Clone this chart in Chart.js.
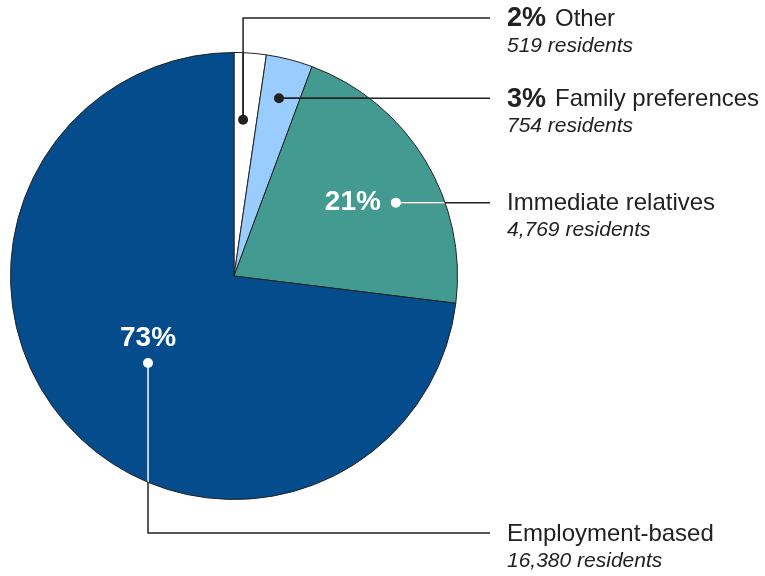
<!DOCTYPE html>
<html>
<head>
<meta charset="utf-8">
<script src="https://cdn.jsdelivr.net/npm/chart.js@4"></script>
<style>
  html, body { margin: 0; padding: 0; background: #fff; }
  #wrap { width: 765px; height: 576px; }
</style>
</head>
<body>
<div id="wrap"><canvas id="pieChart" width="765" height="576"></canvas></div>
<script>
// Residents by category, clockwise from 12 o'clock
const categories = ['Other', 'Family preferences', 'Immediate relatives', 'Employment-based'];
const residents = [519, 754, 4769, 16380];
const sliceColors = ['#ffffff', '#99ccff', '#429a90', '#044c8c'];

const FONT = "'Liberation Sans', Arial, sans-serif";
const INK = '#222222';

// where each callout dot sits inside its slice (fraction of arc, fraction of radius),
// and how the leader runs out to the text column
const callouts = [
  { along: 0.40, depth: 0.70, elbowY: 18, pctOutside: true, innerLine: INK },
  { along: 0.485, depth: 0.82, elbowY: null, pctOutside: true, innerLine: INK },
  { along: 0.59, depth: 0.795, elbowY: null, pctOutside: false, pctDx: -43, pctDy: 0, innerLine: '#ffffff' },
  { along: 0.4855, depth: 0.547, elbowY: 533, pctOutside: false, pctDx: 0, pctDy: -25, innerLine: '#ffffff' }
];
const lineEndX = 490;
const textX = 507;

const total = residents.reduce((a, b) => a + b, 0);
const pct = residents.map(v => Math.round(v / total * 100));

const calloutPlugin = {
  id: 'callouts',
  afterDraw(chart) {
    const ctx = chart.ctx;
    const arcs = chart.getDatasetMeta(0).data;
    arcs.forEach((arc, i) => {
      const c = callouts[i];
      const { x: cx, y: cy, startAngle, endAngle, outerRadius } = arc.getProps(['x', 'y', 'startAngle', 'endAngle', 'outerRadius'], true);
      const a = startAngle + (endAngle - startAngle) * c.along;
      const r = outerRadius * c.depth;
      const dx = cx + Math.cos(a) * r;
      const dy = cy + Math.sin(a) * r;
      const rowY = c.elbowY === null ? dy : c.elbowY;

      const leader = () => {
        ctx.beginPath();
        ctx.moveTo(dx, dy);
        if (c.elbowY !== null) ctx.lineTo(dx, rowY);
        ctx.lineTo(lineEndX, rowY);
        ctx.stroke();
      };

      // leader: dark outside the pie, slice-contrasting colour inside
      ctx.save();
      ctx.lineWidth = 1.5;
      ctx.strokeStyle = INK;
      leader();
      ctx.beginPath();
      ctx.arc(cx, cy, outerRadius - 0.5, 0, Math.PI * 2);
      ctx.clip();
      ctx.strokeStyle = c.innerLine;
      leader();
      ctx.restore();

      // dot
      ctx.save();
      ctx.fillStyle = c.innerLine;
      ctx.beginPath();
      ctx.arc(dx, dy, 5, 0, Math.PI * 2);
      ctx.fill();
      ctx.restore();

      ctx.save();
      ctx.textBaseline = 'middle';
      ctx.textAlign = 'left';
      ctx.fillStyle = INK;
      let tx = textX;
      if (c.pctOutside) {
        ctx.font = 'bold 27px ' + FONT;
        const p = pct[i] + '%';
        ctx.fillText(p, tx, rowY + 1);
        tx += ctx.measureText(p).width + 9;
      } else {
        ctx.save();
        ctx.font = 'bold 28px ' + FONT;
        ctx.fillStyle = '#ffffff';
        ctx.textAlign = 'center';
        ctx.fillText(pct[i] + '%', dx + c.pctDx, dy + c.pctDy);
        ctx.restore();
      }
      ctx.font = '24px ' + FONT;
      ctx.fillText(categories[i], tx, rowY + 1);
      ctx.font = 'italic 21px ' + FONT;
      ctx.fillText(residents[i].toLocaleString('en-US') + ' residents', textX, rowY + 28);
      ctx.restore();
    });
  }
};

new Chart(document.getElementById('pieChart'), {
  type: 'pie',
  data: {
    labels: categories,
    datasets: [{
      data: residents,
      backgroundColor: sliceColors,
      borderColor: INK,
      borderWidth: 1
    }]
  },
  options: {
    responsive: false,
    animation: false,
    layout: { padding: { left: 10, top: 52, right: 307, bottom: 76 } },
    plugins: {
      legend: { display: false },
      tooltip: { enabled: false }
    }
  },
  plugins: [calloutPlugin]
});
</script>
</body>
</html>
